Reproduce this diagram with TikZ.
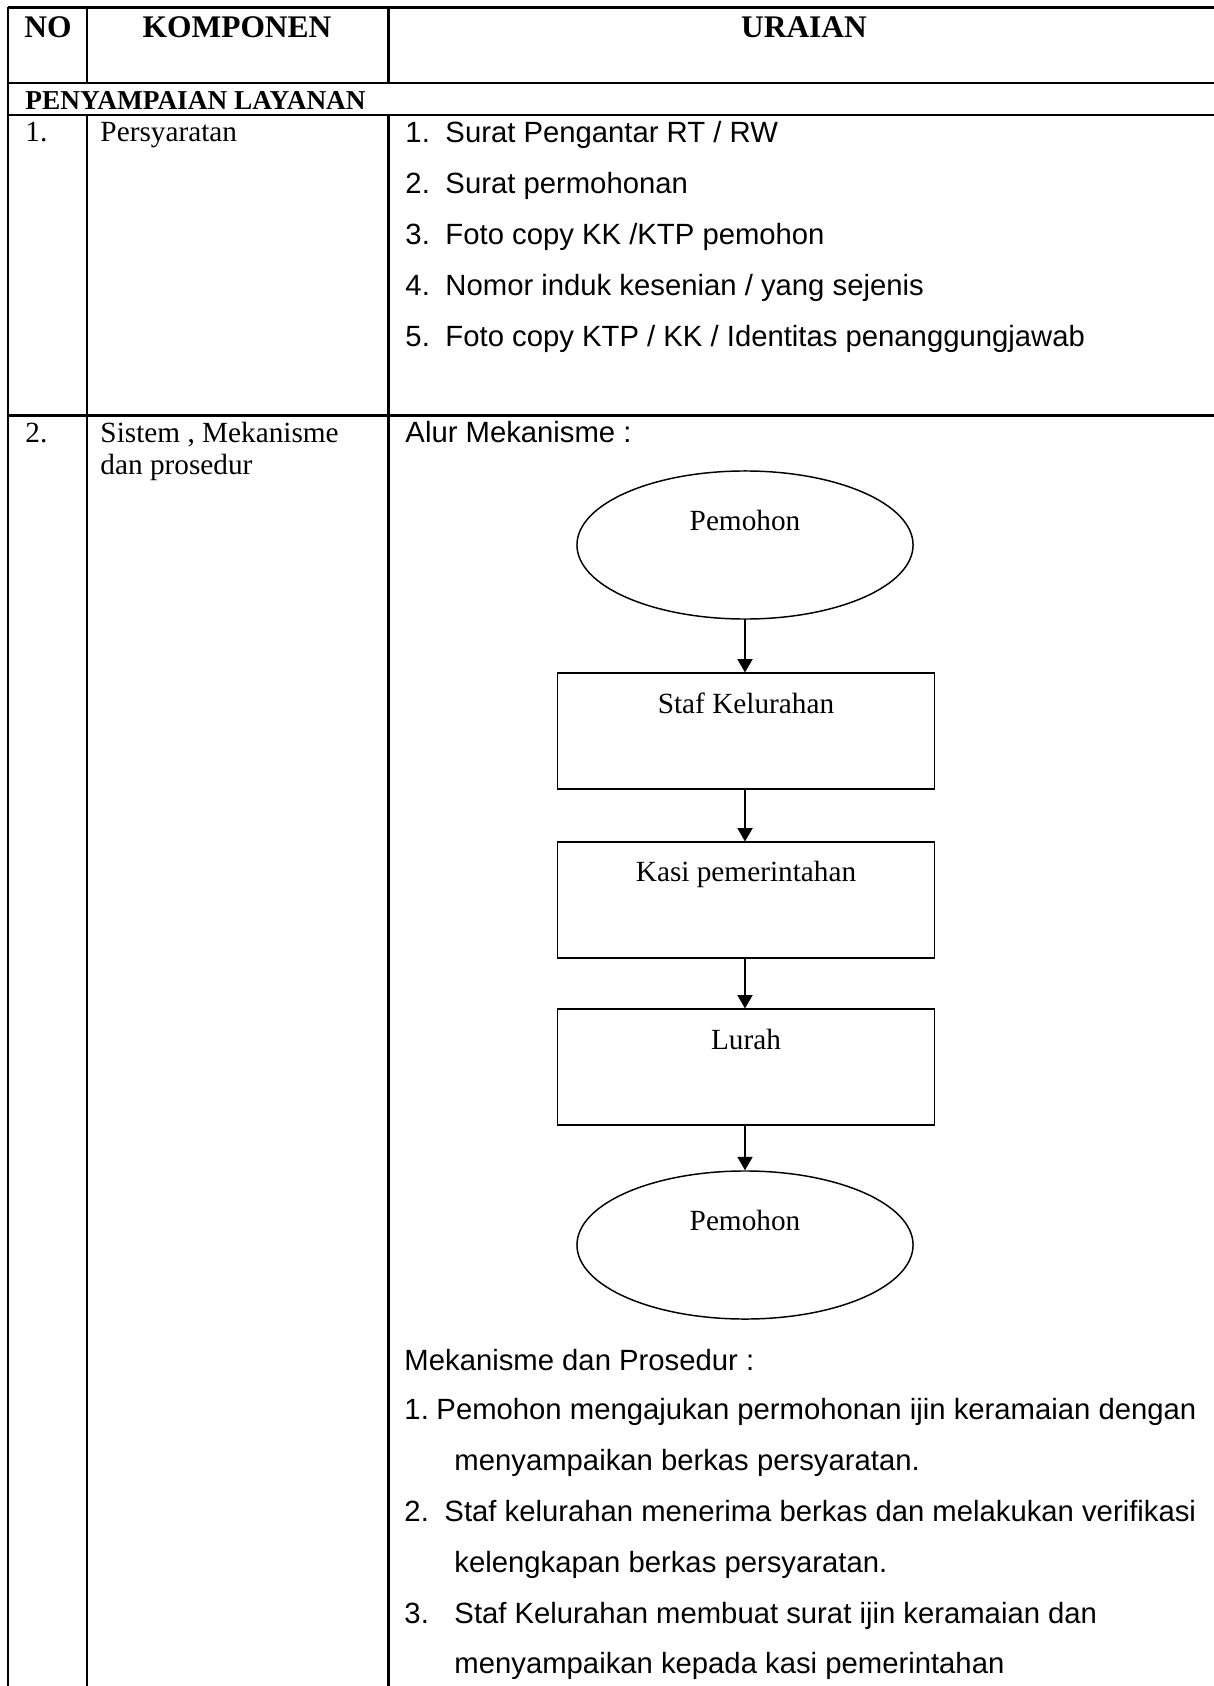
\documentclass[tikz,border=0pt]{standalone}
\usepackage{fontspec}
\setmainfont{Liberation Serif}
\newfontfamily\arialfont{Liberation Sans}
\usetikzlibrary{arrows.meta,shapes.geometric}
\begin{document}
\begin{tikzpicture}[x=0.41pt,y=-0.41pt,
  rule/.style={line width=0.9pt},
  flowline/.style={line width=0.6pt},
  serif/.style={anchor=base west,inner sep=0pt,font=\fontsize{12}{14}\selectfont},
  sans/.style={anchor=base west,inner sep=0pt,font=\arialfont\fontsize{12}{14}\selectfont},
  headtxt/.style={anchor=base,inner sep=0pt,font=\bfseries\fontsize{12.9}{15}\selectfont},
  flowtxt/.style={anchor=base,inner sep=0pt,font=\fontsize{12}{14}\selectfont},
  oval/.style={ellipse,draw,flowline,minimum width=137.8pt,minimum height=60.7pt,inner sep=0pt},
  stepbox/.style={rectangle,draw,flowline,minimum width=154.6pt,minimum height=47.4pt,inner sep=0pt},
  flowarrow/.style={flowline,-{Triangle[length=5.5pt,width=6.2pt]}}]
\useasboundingbox (0,0) rectangle (1214,1686);

% table rules
\draw[rule] (8,7.5) -- (1214,7.5);
\draw[rule] (8,83) -- (1214,83);
\draw[rule] (8,115) -- (1214,115);
\draw[rule] (8,415.5) -- (1214,415.5);
\draw[rule] (8,7.5) -- (8,1686);
\draw[rule] (87,7.5) -- (87,83);
\draw[rule] (87,115) -- (87,1686);
\draw[rule] (388.5,7.5) -- (388.5,83);
\draw[rule] (388.5,115) -- (388.5,1686);

% header
\node[headtxt] (hno) at (48,38) {NO};
\node[headtxt] (hkomp) at (237,38) {KOMPONEN};
\node[headtxt] (hurai) at (804,38) {URAIAN};
\node[serif,font=\bfseries\fontsize{11.2}{13}\selectfont] (sect) at (25,110) {PENYAMPAIAN LAYANAN};

% row 1
\node[serif] (n1) at (25,142) {1.};
\node[serif] (k1) at (100,142) {Persyaratan};
\node[sans] (r1a) at (405,143) {1.};
\node[sans] (r1at) at (445,143) {Surat Pengantar RT / RW};
\node[sans] (r1b) at (405,194) {2.};
\node[sans] (r1bt) at (445,194) {Surat permohonan};
\node[sans] (r1c) at (405,245) {3.};
\node[sans] (r1ct) at (445,245) {Foto copy KK /KTP pemohon};
\node[sans] (r1d) at (405,296) {4.};
\node[sans] (r1dt) at (445,296) {Nomor induk kesenian / yang sejenis};
\node[sans] (r1e) at (405,347) {5.};
\node[sans] (r1et) at (445,347) {Foto copy KTP / KK / Identitas penanggungjawab};

% row 2
\node[serif] (n2) at (25,443) {2.};
\node[serif] (k2a) at (100,443) {Sistem , Mekanisme};
\node[serif] (k2b) at (100,475) {dan prosedur};
\node[sans] (alur) at (405,443) {Alur Mekanisme :};

% flow chart
\node[oval] (start) at (745,545) {};
\node[flowtxt] (startlbl) at (745,531) {Pemohon};
\node[stepbox] (staf) at (746,731) {};
\node[flowtxt] (staflbl) at (746,713) {Staf Kelurahan};
\node[stepbox] (kasi) at (746,900) {};
\node[flowtxt] (kasilbl) at (746,881) {Kasi pemerintahan};
\node[stepbox] (lurah) at (746,1067) {};
\node[flowtxt] (lurahlbl) at (746,1049) {Lurah};
\node[oval] (finish) at (745,1245) {};
\node[flowtxt] (finishlbl) at (745,1230) {Pemohon};

\draw[flowarrow] (start.south) -- (staf.north -| start.south);
\draw[flowarrow] (staf.south -| start.south) -- (kasi.north -| start.south);
\draw[flowarrow] (kasi.south -| start.south) -- (lurah.north -| start.south);
\draw[flowarrow] (lurah.south -| start.south) -- (finish.north);

% procedure
\node[sans] (proc) at (404,1370) {Mekanisme dan Prosedur :};
\node[sans] (p1) at (404,1419) {1.};
\node[sans] (p1t) at (436,1419) {Pemohon mengajukan permohonan ijin keramaian dengan};
\node[sans] (p1u) at (454,1470) {menyampaikan berkas persyaratan.};
\node[sans] (p2) at (404,1521) {2.};
\node[sans] (p2t) at (444,1521) {Staf kelurahan menerima berkas dan melakukan verifikasi};
\node[sans] (p2u) at (454,1572) {kelengkapan berkas persyaratan.};
\node[sans] (p3) at (404,1623) {3.};
\node[sans] (p3t) at (454,1623) {Staf Kelurahan membuat surat ijin keramaian dan};
\node[sans] (p3u) at (454,1673) {menyampaikan kepada kasi pemerintahan};
\end{tikzpicture}
\end{document}
